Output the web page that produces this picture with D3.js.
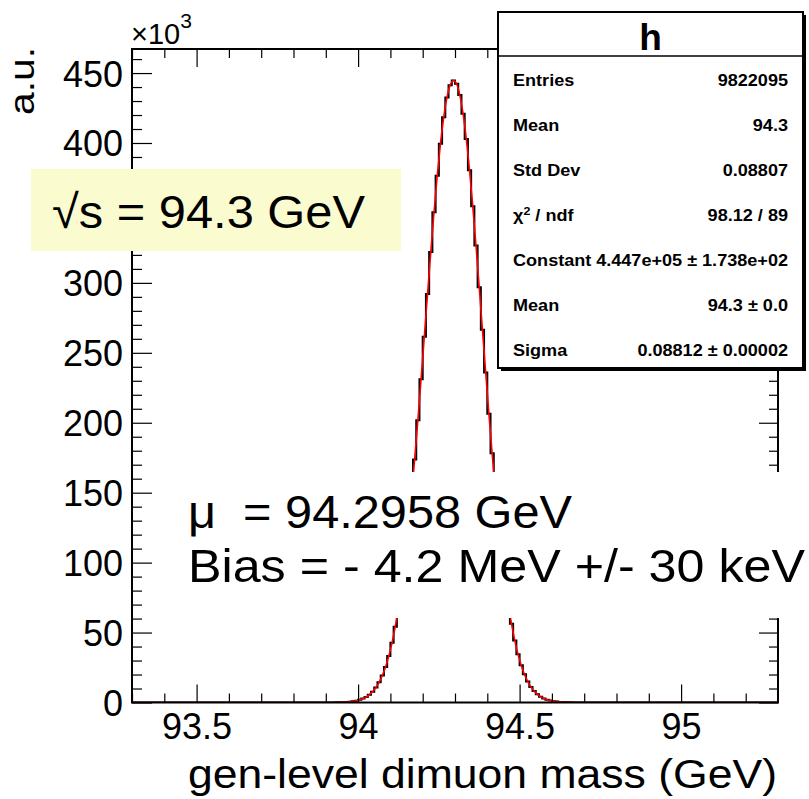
<!DOCTYPE html>
<html>
<head>
<meta charset="utf-8">
<script src="https://cdn.jsdelivr.net/npm/d3@7"></script>
<style>
  html, body { margin: 0; padding: 0; background: #fff; }
  svg { display: block; font-family: "Liberation Sans", Arial, Helvetica, sans-serif; }
  text { white-space: pre; }
</style>
</head>
<body>
<svg id="chart" width="809" height="799"></svg>
<script>
// ---------------- data ----------------
const xDomain = [93.3, 95.3];
const yMax = 467200;
const binLowEdge = 93.89;   // low edge of first listed bin
const binWidth = 0.01;
// histogram bin contents (bins 93.89 .. 94.70)
const counts = [
  14, 24, 39, 64, 102, 161, 251, 387, 590, 890,
  1310, 1920, 2780, 3960, 5570, 7750, 10640, 14400, 19270, 25440,
  33160, 42660, 54200, 67970, 84150, 102830, 124080, 147790, 173790, 201730,
  231180, 261520, 292080, 322010, 350500, 376620, 399500, 418350, 432480, 441370,
  444680, 442280, 434270, 420940, 402810, 380520, 354860, 326700, 296930, 266410,
  235980, 206350, 178140, 151800, 127710, 106050, 86960, 70390, 56240, 44370,
  34560, 26560, 20160, 15100, 11170, 8160, 5880, 4190, 2940, 2040,
  1400, 940, 630, 415, 270, 173, 110, 69, 42, 26, 16
];
const xMajorTicks = [93.5, 94, 94.5, 95];
const xMinorTicks = [93.3, 93.4, 93.6, 93.7, 93.8, 93.9, 94.1, 94.2, 94.3, 94.4, 94.6, 94.7, 94.8, 94.9, 95.1, 95.2];
const yMajorTicks = [0, 50000, 100000, 150000, 200000, 250000, 300000, 350000, 400000, 450000];
const yHiddenLabels = [350000];   // covered by the √s box in the reference
const yMinorTicks = d3.range(0, 461, 10).map(v => v * 1000).filter(v => v % 50000 !== 0);
const statsTitle = "h";
const statsLabels = ["Entries", "Mean", "Std Dev", "χ2 / ndf", "Constant", "Mean", "Sigma"];
const statsValues = ["9822095", "94.3", "0.08807", "98.12 / 89", "4.447e+05 ± 1.738e+02", "94.3 ± 0.0", "0.08812 ± 0.00002"];

// ---------------- layout ----------------
const L = 132, R = 778, T = 49, B = 702.5;
const svg = d3.select("#chart");
const x = d3.scaleLinear().domain(xDomain).range([L, R]);
const y = d3.scaleLinear().domain([0, yMax]).range([B, T]);

svg.append("defs").append("clipPath").attr("id", "plotclip")
  .append("rect").attr("x", L).attr("y", T).attr("width", R - L).attr("height", B - T);

// histogram step points
const histPts = [[xDomain[0], 0], [binLowEdge, 0]];
counts.forEach((c, i) => {
  histPts.push([binLowEdge + i * binWidth, c]);
  histPts.push([binLowEdge + (i + 1) * binWidth, c]);
});
histPts.push([binLowEdge + counts.length * binWidth, 0]);
histPts.push([xDomain[1], 0]);

const fitPts = [[xDomain[0], 0]];
counts.forEach((c, i) => fitPts.push([binLowEdge + (i + 0.5) * binWidth, c]));
fitPts.push([xDomain[1], 0]);

const line = d3.line().x(d => x(d[0])).y(d => y(d[1]));
const g = svg.append("g").attr("clip-path", "url(#plotclip)");
g.append("path").attr("d", line(histPts)).attr("fill", "none")
  .attr("stroke", "#000").attr("stroke-width", 2);
g.append("path").attr("d", d3.line().x(d => x(d[0])).y(d => y(d[1])).curve(d3.curveMonotoneX)(fitPts))
  .attr("fill", "none").attr("stroke", "#ff0000").attr("stroke-width", 1.6);

// ---------------- axes ----------------
function styleAxis(sel) {
  sel.selectAll(".domain").remove();
  sel.selectAll(".tick line").attr("stroke", "#000").attr("stroke-width", 1.2);
  sel.selectAll("text").attr("fill", "#000");
}
// bottom
svg.append("g").attr("transform", `translate(0,${B})`)
  .call(d3.axisBottom(x).tickValues(xMinorTicks).tickSize(-9).tickFormat(""))
  .call(styleAxis);
svg.append("g").attr("transform", `translate(0,${B})`)
  .call(d3.axisBottom(x).tickValues(xMajorTicks).tickSize(-18).tickPadding(11).tickFormat(d3.format("")))
  .call(styleAxis)
  .selectAll("text").style("font-size", "36px").attr("dy", "0.71em");
// top
svg.append("g").attr("transform", `translate(0,${T})`)
  .call(d3.axisTop(x).tickValues(xMinorTicks).tickSize(-9).tickFormat("")).call(styleAxis);
svg.append("g").attr("transform", `translate(0,${T})`)
  .call(d3.axisTop(x).tickValues(xMajorTicks).tickSize(-18).tickFormat("")).call(styleAxis);
// left
svg.append("g").attr("transform", `translate(${L},0)`)
  .call(d3.axisLeft(y).tickValues(yMinorTicks).tickSize(-10).tickFormat("")).call(styleAxis);
svg.append("g").attr("transform", `translate(${L},0)`)
  .call(d3.axisLeft(y).tickValues(yMajorTicks).tickSize(-20).tickPadding(9)
    .tickFormat(d => yHiddenLabels.includes(d) ? "" : d3.format("d")(d / 1000)))
  .call(styleAxis)
  .selectAll("text").style("font-size", "36px").attr("dy", "0.36em");
// right
svg.append("g").attr("transform", `translate(${R},0)`)
  .call(d3.axisRight(y).tickValues(yMinorTicks).tickSize(-9).tickFormat("")).call(styleAxis);
svg.append("g").attr("transform", `translate(${R},0)`)
  .call(d3.axisRight(y).tickValues(yMajorTicks).tickSize(-19).tickFormat("")).call(styleAxis);

// frame
svg.append("rect").attr("x", L).attr("y", T).attr("width", R - L).attr("height", B - T)
  .attr("fill", "none").attr("stroke", "#000").attr("stroke-width", 2);

// axis titles
svg.append("text").attr("x", 777).attr("y", 788).attr("text-anchor", "end")
  .style("font-size", "40px").attr("textLength", 589).attr("lengthAdjust", "spacingAndGlyphs")
  .text("gen-level dimuon mass (GeV)");
svg.append("text").attr("transform", "translate(34,47) rotate(-90)").attr("text-anchor", "end")
  .style("font-size", "35px").attr("textLength", 68).attr("lengthAdjust", "spacingAndGlyphs").text("a.u.");
const mult = svg.append("text").attr("x", 131).attr("y", 44).style("font-size", "29px");
mult.append("tspan").text("×10");
mult.append("tspan").attr("dy", -16).style("font-size", "21px").text("3");

// ---------------- annotation boxes ----------------
svg.append("rect").attr("x", 178).attr("y", 472).attr("width", 631).attr("height", 146).attr("fill", "#fff");
svg.append("text").attr("x", 188).attr("y", 528).style("font-size", "46px")
  .attr("textLength", 384).attr("lengthAdjust", "spacingAndGlyphs").text("μ  = 94.2958 GeV");
svg.append("text").attr("x", 188).attr("y", 582).style("font-size", "46px")
  .attr("textLength", 617).attr("lengthAdjust", "spacingAndGlyphs").text("Bias = - 4.2 MeV +/- 30 keV");

svg.append("rect").attr("x", 31).attr("y", 169).attr("width", 370).attr("height", 82).attr("fill", "#fbfbd0");
svg.append("text").attr("x", 52).attr("y", 228).style("font-size", "47px")
  .attr("textLength", 313).attr("lengthAdjust", "spacingAndGlyphs").text("√s = 94.3 GeV");

// ---------------- stats box ----------------
const sb = { x: 498, y: 12, w: 305, h: 356 };
svg.append("rect").attr("x", sb.x + 3).attr("y", sb.y + 3).attr("width", sb.w).attr("height", sb.h).attr("fill", "#000");
svg.append("rect").attr("x", sb.x).attr("y", sb.y).attr("width", sb.w).attr("height", sb.h)
  .attr("fill", "#fff").attr("stroke", "#000").attr("stroke-width", 2);
svg.append("line").attr("x1", sb.x).attr("x2", sb.x + sb.w).attr("y1", 56).attr("y2", 56)
  .attr("stroke", "#000").attr("stroke-width", 1.5);
svg.append("text").attr("x", sb.x + sb.w / 2).attr("y", 50).attr("text-anchor", "middle")
  .style("font-size", "37px").style("font-weight", "bold").text(statsTitle);
const sx = 1.13;
statsLabels.forEach((lab, i) => {
  const yy = 86 + i * 45;
  const t = svg.append("text").attr("transform", `translate(513,${yy}) scale(${sx},1)`)
    .style("font-size", "16px").style("font-weight", "bold");
  if (lab === "χ2 / ndf") {
    t.append("tspan").text("χ");
    t.append("tspan").attr("dy", -6).style("font-size", "11px").text("2");
    t.append("tspan").attr("dy", 6).text(" / ndf");
  } else {
    t.text(lab);
  }
  svg.append("text").attr("transform", `translate(788,${yy}) scale(${sx},1)`).attr("text-anchor", "end")
    .style("font-size", "16px").style("font-weight", "bold").text(statsValues[i]);
});
</script>
</body>
</html>
